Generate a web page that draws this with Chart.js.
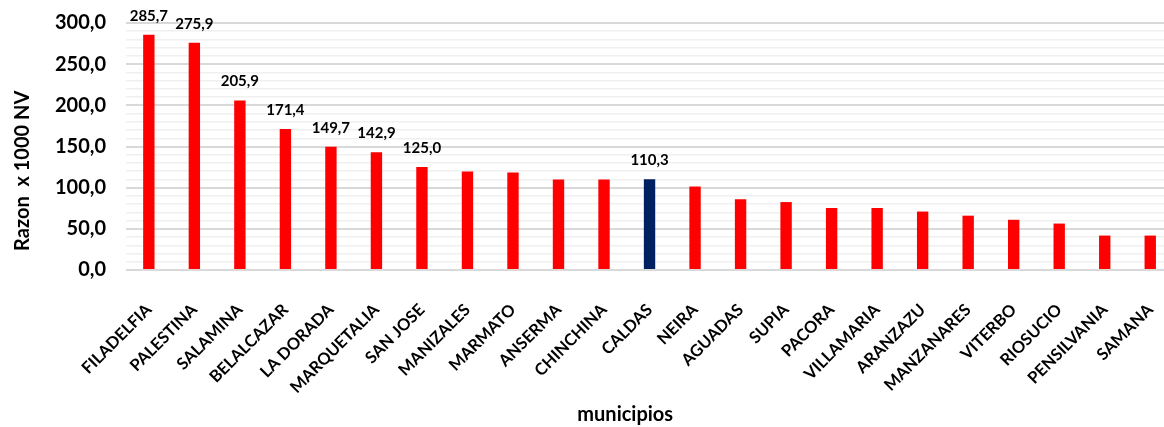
<!DOCTYPE html>
<html lang="es">
<head>
<meta charset="UTF-8">
<title>Razon x 1000 NV por municipio</title>
<script src="https://cdn.jsdelivr.net/npm/chart.js"></script>
<style>
  html, body { margin: 0; padding: 0; overflow: hidden; background: #fff; }
  #wrap { width: 1176px; height: 427px; }
</style>
</head>
<body>
<div id="wrap"><canvas id="myChart"></canvas></div>
<script>
const municipios = ['FILADELFIA', 'PALESTINA', 'SALAMINA', 'BELALCAZAR', 'LA DORADA', 'MARQUETALIA',
  'SAN JOSE', 'MANIZALES', 'MARMATO', 'ANSERMA', 'CHINCHINA', 'CALDAS', 'NEIRA', 'AGUADAS', 'SUPIA',
  'PACORA', 'VILLAMARIA', 'ARANZAZU', 'MANZANARES', 'VITERBO', 'RIOSUCIO', 'PENSILVANIA', 'SAMANA'];
const razon = [285.7, 275.9, 205.9, 171.4, 149.7, 142.9, 125.0, 119.6, 118.4, 110.0, 110.0, 110.3,
  101.4, 86.0, 82.5, 75.3, 75.3, 71.0, 66.0, 61.0, 56.4, 41.8, 41.8];
// only these bars carry a value label in the original
const conEtiqueta = [0, 1, 2, 3, 4, 5, 6, 11];
const destacado = 'CALDAS';

const fmt = v => v.toFixed(1).replace('.', ',');
const FONT = 'Lato, "Open Sans", sans-serif';

const valueLabels = {
  id: 'valueLabels',
  afterDatasetsDraw(chart) {
    const ctx = chart.ctx;
    const meta = chart.getDatasetMeta(0);
    ctx.save();
    ctx.font = 'bold 15px ' + FONT;
    ctx.fillStyle = '#000';
    ctx.textAlign = 'center';
    ctx.textBaseline = 'middle';
    conEtiqueta.forEach(i => {
      const bar = meta.data[i];
      ctx.fillText(fmt(razon[i]), bar.x, bar.y - 19);
    });
    ctx.restore();
  }
};

new Chart(document.getElementById('myChart'), {
  type: 'bar',
  data: {
    labels: municipios,
    datasets: [{
      data: razon,
      backgroundColor: municipios.map(m => m === destacado ? '#002060' : '#ff0000'),
      barPercentage: 0.25,
      categoryPercentage: 1
    }]
  },
  options: {
    responsive: true,
    maintainAspectRatio: false,
    animation: false,
    layout: { padding: { top: 23, left: 11, right: 3, bottom: 0 } },
    plugins: {
      legend: { display: false },
      tooltip: { enabled: false }
    },
    scales: {
      x: {
        grid: { display: false },
        border: { display: false },
        afterFit: s => { s.height = 157; s.paddingRight = 0; },
        ticks: {
          color: '#000',
          font: { family: FONT, size: 16.5, weight: 'bold' },
          maxRotation: 45,
          minRotation: 45,
          autoSkip: false,
          padding: 22
        },
        title: {
          display: true,
          text: 'municipios          ',
          color: '#000',
          font: { family: FONT, size: 20, weight: 'bold' },
          padding: { top: 0, bottom: 0 }
        }
      },
      y: {
        min: 0,
        max: 300,
        border: { display: false },
        afterFit: s => { s.paddingTop = 0; },
        grid: {
          drawTicks: false,
          color: c => c.tick.value % 50 === 0 ? '#d9d9d9' : '#f0f0f0',
          lineWidth: c => c.tick.value % 50 === 0 ? 2 : 1.5
        },
        ticks: {
          stepSize: 10,
          autoSkip: false,
          padding: 20,
          color: '#000',
          font: { family: FONT, size: 20, weight: 'bold' },
          callback: v => v % 50 === 0 ? fmt(v) : ''
        },
        title: {
          display: true,
          text: 'Razon  x 1000 NV          ',
          color: '#000',
          font: { family: FONT, size: 20, weight: 'bold' },
          padding: { top: 0, bottom: 0 }
        }
      }
    }
  },
  plugins: [valueLabels]
});
</script>
</body>
</html>
